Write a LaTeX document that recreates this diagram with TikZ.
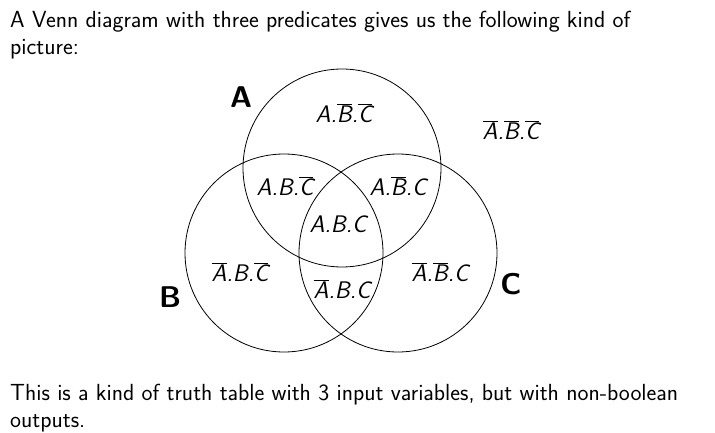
\documentclass[tikz,border=0pt]{standalone}
\renewcommand{\familydefault}{\sfdefault}
\newcommand\ovl[1]{$\overline{\hbox{\textit{#1}}}$}
\begin{document}
\begin{tikzpicture}[x=1pt,y=-1pt,
  circ/.style={draw=black,line width=0.8pt},
  para/.style={anchor=base west,inner sep=0pt,font=\fontsize{23.3}{27}\selectfont},
  reg/.style={inner sep=0pt,font=\fontsize{24}{26}\selectfont\itshape},
  setlbl/.style={inner sep=0pt,font=\fontsize{30}{32}\selectfont\bfseries}]
\useasboundingbox[fill=white] (0,0) rectangle (715,433);
\node[para] (t1) at (10,28) {A Venn diagram with three predicates gives us the following kind of};
\node[para] (t2) at (10,55) {picture:};
\node[circ,circle,minimum size=198pt,inner sep=0pt] (cA) at (342,168) {};
\node[circ,circle,minimum size=198pt,inner sep=0pt] (cB) at (284,253) {};
\node[circ,circle,minimum size=198pt,inner sep=0pt] (cC) at (398,253) {};
\node[setlbl] (lA) at (241,97) {A};
\node[setlbl] (lB) at (170,297) {B};
\node[setlbl] (lC) at (511,284) {C};
\node[reg] (r1) at (344,113) {A.\ovl{B}.\ovl{C}};
\node[reg] (r0) at (511,130) {\ovl{A}.\ovl{B}.\ovl{C}};
\node[reg] (r2) at (285,186) {A.B.\ovl{C}};
\node[reg] (r3) at (398,186) {A.\ovl{B}.C};
\node[reg] (r4) at (338,224) {A.B.C};
\node[reg] (r5) at (240,272) {\ovl{A}.B.\ovl{C}};
\node[reg] (r6) at (342,289) {\ovl{A}.B.C};
\node[reg] (r7) at (440,272) {\ovl{A}.\ovl{B}.C};
\node[para] (t3) at (10,400) {This is a kind of truth table with 3 input variables, but with non-boolean};
\node[para] (t4) at (10,427) {outputs.};
\end{tikzpicture}
\end{document}
